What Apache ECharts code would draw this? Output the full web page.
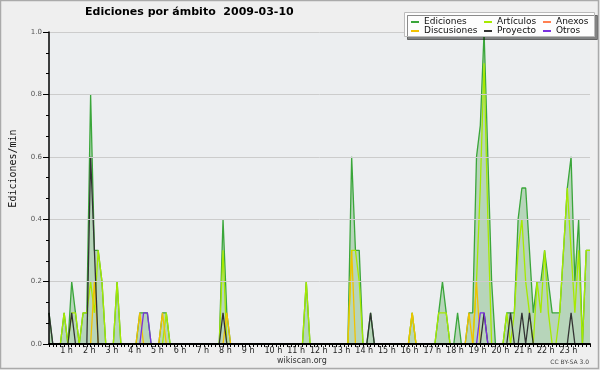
<!DOCTYPE html>
<html><head><meta charset="utf-8">
<script src="https://cdn.jsdelivr.net/npm/echarts@6/dist/echarts.min.js"></script>
<style>html,body{margin:0;padding:0;background:#efefef;}#c{width:600px;height:370px;}</style>
</head><body><div id="c"></div>
<script>
// tick labels (one per hour; 0 h not shown)
var hourLabels = ['', '1 h','2 h','3 h','4 h','5 h','6 h','7 h','8 h','9 h','10 h','11 h','12 h',
  '13 h','14 h','15 h','16 h','17 h','18 h','19 h','20 h','21 h','22 h','23 h'];
var yTicks = [0, 0.2, 0.4, 0.6, 0.8, 1.0];
// 10-minute slots (144)
var categories = [];
for (var h = 0; h < 24; h++) for (var m = 0; m < 60; m += 10) categories.push((h<10?'0':'')+h+':'+(m<10?'0':'')+m);

// values in edits/min, each row = 2 hours (12 slots)
var ediciones = [
  0.1,0,0,0,0.1,0,0.2,0.1,0,0.1,0.1,0.8,
  0.3,0.3,0.2,0,0,0,0.2,0,0,0,0,0,
  0.1,0.1,0.1,0,0,0,0.1,0.1,0,0,0,0,
  0,0,0,0,0,0,0,0,0,0,0.4,0.1,
  0,0,0,0,0,0,0,0,0,0,0,0,
  0,0,0,0,0,0,0,0,0.2,0,0,0,
  0,0,0,0,0,0,0,0,0.6,0.3,0.3,0,
  0,0.1,0,0,0,0,0,0,0,0,0,0,
  0.1,0,0,0,0,0,0,0.1,0.2,0.1,0,0,
  0.1,0,0,0.1,0.1,0.6,0.7,1.0,0.6,0.2,0,0,
  0,0.1,0.1,0.1,0.4,0.5,0.5,0.3,0.1,0.2,0.2,0.3,
  0.2,0.1,0.1,0.1,0.3,0.5,0.6,0.2,0.4,0,0.3,0.3
];
var articulos = [
  0,0,0,0,0.1,0,0.1,0.1,0,0.1,0.1,0.2,
  0.1,0.3,0.2,0,0,0,0.2,0,0,0,0,0,
  0,0,0,0,0,0,0,0.1,0,0,0,0,
  0,0,0,0,0,0,0,0,0,0,0.3,0,
  0,0,0,0,0,0,0,0,0,0,0,0,
  0,0,0,0,0,0,0,0,0.2,0,0,0,
  0,0,0,0,0,0,0,0,0.3,0.3,0.2,0,
  0,0,0,0,0,0,0,0,0,0,0,0,
  0.1,0,0,0,0,0,0,0.1,0.1,0.1,0,0,
  0,0,0,0,0,0.2,0.5,0.9,0.4,0,0,0,
  0,0.1,0,0.1,0.3,0.4,0.2,0.1,0,0.2,0.1,0.3,
  0.1,0,0,0.1,0.3,0.5,0.3,0.1,0.3,0,0.3,0.3
];
var anexos = [
  0,0,0,0,0,0,0,0,0,0,0,0,
  0,0,0,0,0,0,0,0,0,0,0,0,
  0,0,0,0,0,0,0,0,0,0,0,0,
  0,0,0,0,0,0,0,0,0,0,0,0,
  0,0,0,0,0,0,0,0,0,0,0,0,
  0,0,0,0,0,0,0,0,0,0,0,0,
  0,0,0,0,0,0,0,0,0,0,0,0,
  0,0,0,0,0,0,0,0,0,0,0,0,
  0,0,0,0,0,0,0,0,0,0,0,0,
  0,0,0,0,0,0,0,0,0,0,0,0,
  0,0,0,0,0,0,0,0,0,0,0,0,
  0,0,0,0,0,0,0,0,0,0,0,0
];
var discusiones = [
  0,0,0,0,0,0,0,0,0,0,0,0,
  0.2,0,0,0,0,0,0,0,0,0,0,0,
  0.1,0,0,0,0,0,0.1,0,0,0,0,0,
  0,0,0,0,0,0,0,0,0,0,0,0.1,
  0,0,0,0,0,0,0,0,0,0,0,0,
  0,0,0,0,0,0,0,0,0,0,0,0,
  0,0,0,0,0,0,0,0,0.3,0,0,0,
  0,0,0,0,0,0,0,0,0,0,0,0,
  0.1,0,0,0,0,0,0,0,0,0,0,0,
  0,0,0,0.1,0,0.2,0,0,0,0,0,0,
  0,0,0,0,0,0,0,0,0,0,0,0,
  0,0,0,0,0,0,0,0,0,0,0,0
];
var proyecto = [
  0.1,0,0,0,0,0,0.1,0,0,0,0,0.6,
  0.3,0,0,0,0,0,0,0,0,0,0,0,
  0,0,0,0,0,0,0,0,0,0,0,0,
  0,0,0,0,0,0,0,0,0,0,0.1,0,
  0,0,0,0,0,0,0,0,0,0,0,0,
  0,0,0,0,0,0,0,0,0,0,0,0,
  0,0,0,0,0,0,0,0,0,0,0,0,
  0,0.1,0,0,0,0,0,0,0,0,0,0,
  0,0,0,0,0,0,0,0,0,0,0,0,
  0,0,0,0,0,0,0,0.1,0,0,0,0,
  0,0,0.1,0,0,0.1,0,0.1,0,0,0,0,
  0,0,0,0,0,0,0.1,0,0,0,0,0
];
var otros = [
  0,0,0,0,0,0,0,0,0,0,0,0,
  0,0,0,0,0,0,0,0,0,0,0,0,
  0,0.1,0.1,0,0,0,0,0,0,0,0,0,
  0,0,0,0,0,0,0,0,0,0,0,0,
  0,0,0,0,0,0,0,0,0,0,0,0,
  0,0,0,0,0,0,0,0,0,0,0,0,
  0,0,0,0,0,0,0,0,0,0,0,0,
  0,0,0,0,0,0,0,0,0,0,0,0,
  0,0,0,0,0,0,0,0,0,0,0,0,
  0,0,0,0,0,0,0.1,0.1,0,0,0,0,
  0,0,0,0,0,0,0,0,0,0,0,0,
  0,0,0,0,0,0,0,0,0,0,0,0
];

var FONT = 'DejaVu Sans';
function lineSeries(name, data, color, extra) {
  var s = { name: name, type: 'line', data: data, showSymbol: false, symbol: 'none',
    animation: false, lineStyle: { color: color, width: 1.3 }, itemStyle: { color: color } };
  for (var k in extra) s[k] = extra[k];
  return s;
}
var legendCommon = { orient: 'vertical', top: 17.5, padding: 0, itemGap: 0, itemWidth: 8, itemHeight: 2,
  icon: 'rect', selectedMode: false, z: 20,
  textStyle: { fontFamily: FONT, fontSize: 9, color: '#111', lineHeight: 8 } };
function lg(data, left) { var o = {}; for (var k in legendCommon) o[k] = legendCommon[k]; o.data = data; o.left = left; return o; }

var chart = echarts.init(document.getElementById('c'), null, { renderer: 'canvas' });
chart.setOption({
  backgroundColor: '#efefef',
  animation: false,
  title: [
    { text: 'Ediciones por ámbito  2009-03-10', left: 85, top: 7, padding: 0,
      textStyle: { fontFamily: FONT, fontSize: 11, fontWeight: 'bold', color: '#000' } },
    { text: 'wikiscan.org', left: 277, top: 357, padding: 0,
      textStyle: { fontFamily: FONT, fontSize: 8, fontWeight: 'normal', color: '#333' } },
    { text: 'CC BY-SA 3.0', right: 11, top: 359, padding: 0,
      textStyle: { fontFamily: FONT, fontSize: 6, fontWeight: 'normal', color: '#444' } }
  ],
  legend: [ lg(['Ediciones','Discusiones'], 411), lg(['Artículos','Proyecto'], 484), lg(['Anexos','Otros'], 543) ],
  graphic: [
    { type: 'rect', z: 15, shape: { x: 404.5, y: 12.5, width: 190, height: 24 },
      style: { fill: '#fdfdfd', stroke: '#bbb', lineWidth: 1, shadowColor: 'rgba(0,0,0,0.45)', shadowOffsetX: 3, shadowOffsetY: 3, shadowBlur: 0 } },
    { type: 'rect', z: 30, shape: { x: 0.5, y: 0.5, width: 598, height: 368 },
      style: { fill: 'none', stroke: '#aaa', lineWidth: 1.5 } }
  ],
  grid: { left: 46, right: 10, top: 32, bottom: 26, show: true, backgroundColor: '#eceef0', borderWidth: 0 },
  xAxis: {
    type: 'category', data: categories, boundaryGap: false, z: 10,
    axisLine: { lineStyle: { color: '#000', width: 2 } },
    axisTick: { show: true, interval: 0, length: 3, lineStyle: { color: '#000', width: 1 } },
    axisLabel: { interval: 0, margin: 2.5, align: 'left', padding: [0, 0, 0, -11.5],
      fontFamily: FONT, fontSize: 8, color: '#222',
      formatter: function (v, i) { return (i % 6 === 0) ? hourLabels[i / 6] : ''; } },
    splitLine: { show: false }
  },
  yAxis: {
    type: 'value', min: yTicks[0], max: yTicks[yTicks.length - 1], interval: 0.2, z: 10,
    name: 'Ediciones/min', nameLocation: 'middle', nameGap: 31, nameRotate: 90,
    nameTextStyle: { fontFamily: 'DejaVu Sans Mono', fontSize: 10, color: '#111', padding: [0, 0, 0, 39] },
    axisLine: { show: true, lineStyle: { color: '#000', width: 1.5 } },
    axisTick: { show: true, length: 6, lineStyle: { color: '#000' } },
    minorTick: { show: true, splitNumber: 3, length: 3, lineStyle: { color: '#000' } },
    axisLabel: { margin: 7, fontFamily: FONT, fontSize: 7, color: '#555',
      formatter: function (v) { return v.toFixed(1); } },
    splitLine: { show: true, lineStyle: { color: '#cccccc', width: 1 } }
  },
  series: [
    lineSeries('Ediciones', ediciones, '#3aa63a', { areaStyle: { color: 'rgba(70,160,70,0.45)' }, z: 2 }),
    lineSeries('Artículos', articulos, '#a6ea00', { z: 3 }),
    lineSeries('Anexos', anexos, '#ff7f50', { z: 3 }),
    lineSeries('Discusiones', discusiones, '#f2c200', { z: 3 }),
    lineSeries('Proyecto', proyecto, '#333333', { z: 4 }),
    lineSeries('Otros', otros, '#7a30e0', { z: 4 })
  ]
});
</script></body></html>
